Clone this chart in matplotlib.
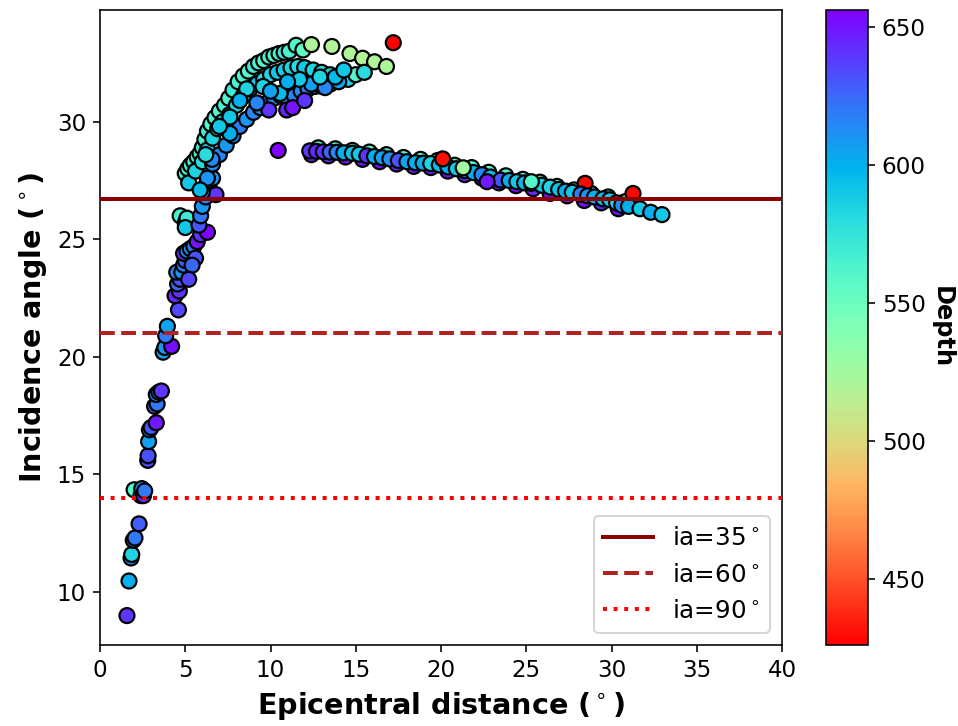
import numpy as np
import matplotlib
matplotlib.use("Agg")
import matplotlib.pyplot as plt

# ---- data: steep lower branch (distance deg, incidence deg, depth km)
rise_dist = [1.58, 1.70, 1.82, 1.86, 1.95, 2.05, 2.29, 2.00, 2.40, 2.45, 2.55, 2.62,
             2.80, 2.82, 2.85, 2.90, 3.00, 3.30, 3.20, 3.35, 3.30, 3.45, 3.60, 3.70,
             3.80, 4.20, 3.85, 3.95, 4.60, 4.40, 4.65, 4.55, 4.70, 4.50, 4.80, 4.90,
             5.00, 4.90, 5.10, 5.30, 5.50, 5.70, 5.90, 6.30, 4.70, 5.00, 5.10, 5.00,
             5.80, 5.90, 6.00, 6.20, 6.00, 6.40, 6.30, 6.60, 6.80, 5.60, 5.40, 5.20]
rise_inc = [9.00, 10.47, 11.45, 11.60, 12.20, 12.30, 12.90, 14.35, 14.10, 14.40, 14.10, 14.30,
            15.60, 15.80, 16.40, 16.90, 17.00, 17.20, 17.90, 18.00, 18.40, 18.50, 18.55, 20.20,
            20.40, 20.45, 20.90, 21.30, 22.00, 22.60, 22.80, 23.10, 23.30, 23.60, 23.60, 23.90,
            24.10, 24.40, 24.50, 24.60, 24.70, 24.90, 25.20, 25.30, 26.00, 25.70, 25.90, 25.50,
            25.60, 26.00, 26.40, 26.80, 27.00, 27.20, 27.50, 27.60, 26.90, 24.20, 23.90, 23.30]
rise_depth = [640, 600, 615, 585, 625, 620, 628, 560, 615, 612, 645, 620,
              635, 632, 605, 605, 630, 648, 625, 620, 615, 620, 640, 605,
              610, 652, 620, 605, 635, 645, 640, 625, 630, 615, 610, 620,
              625, 640, 615, 605, 620, 650, 640, 655, 565, 580, 570, 590,
              630, 620, 610, 615, 640, 625, 600, 610, 640, 630, 625, 635]

# ---- data: curved upper branch (outer edge, middle, inner, top layer)
upper_dist = [5.0, 5.15, 5.3, 5.5, 5.7, 5.87, 6.0, 6.15, 6.3, 6.5, 6.74, 7.0, 7.3, 7.55, 7.8,
              8.1, 8.4, 8.7, 9.0, 9.3, 9.6, 9.9, 10.2, 10.5, 10.8, 11.1, 11.5, 11.9, 12.4,
              13.6, 14.66, 15.4, 16.1, 16.8,
              5.2, 5.6, 6.0, 6.3, 6.6, 6.9, 7.2, 7.6, 8.0, 8.4, 8.8, 9.2, 9.6, 10.0, 10.4,
              10.8, 11.2, 11.6, 12.0, 12.5, 13.0, 13.5, 14.0, 14.55, 15.0, 15.5,
              6.0, 6.3, 6.6, 7.0, 7.4, 7.8, 8.2, 8.6, 9.0, 9.4, 9.8, 10.2, 10.6, 11.0, 11.4,
              11.8, 12.2, 12.6, 13.0, 13.5, 14.0,
              9.9, 10.95, 11.3, 12.0,
              7.62, 7.62, 9.56, 10.56, 12.4, 13.2, 11.7, 8.6, 9.2, 7.0, 6.57, 5.87, 6.2,
              10.0, 11.0, 13.8, 14.3, 8.2, 12.9, 17.2]
upper_inc = [27.8, 28.0, 28.15, 28.3, 28.5, 28.65, 28.9, 29.25, 29.6, 29.9, 30.17, 30.45, 30.7, 31.0, 31.35,
             31.7, 31.95, 32.15, 32.35, 32.5, 32.6, 32.75, 32.82, 32.9, 32.95, 33.0, 33.25, 33.05, 33.28,
             33.2, 32.9, 32.7, 32.55, 32.35,
             27.4, 27.9, 28.3, 28.8, 29.3, 29.7, 30.0, 30.3, 30.7, 31.1, 31.4, 31.6, 31.8, 32.0, 32.1,
             32.2, 32.3, 32.35, 32.3, 32.2, 32.1, 32.0, 31.95, 31.8, 32.0, 32.1,
             27.0, 27.6, 28.2, 28.6, 29.0, 29.4, 29.8, 30.1, 30.4, 30.6, 30.8, 31.0, 31.1, 31.0, 31.1,
             31.3, 31.4, 31.5, 31.5, 31.6, 31.7,
             30.5, 30.5, 30.6, 30.9,
             30.2, 29.5, 31.5, 31.2, 31.6, 31.45, 31.8, 31.4, 30.8, 29.8, 28.4, 27.1, 28.6,
             31.3, 31.7, 31.9, 32.2, 30.9, 31.9, 33.36]
upper_depth = [565, 560, 565, 562, 566, 560, 570, 565, 568, 560, 565, 560, 565, 562, 570,
               565, 562, 560, 570, 565, 560, 566, 562, 565, 570, 565, 560, 555, 520,
               520, 520, 518, 520, 522,
               590, 585, 580, 590, 585, 580, 588, 590, 585, 580, 585, 590, 580, 585, 590,
               588, 585, 580, 590, 585, 580, 585, 590, 585, 560, 580,
               605, 610, 612, 615, 610, 612, 618, 610, 615, 612, 620, 615, 620, 610, 615,
               612, 620, 610, 615, 612, 605,
               640, 645, 650, 640,
               590, 600, 585, 595, 605, 615, 590, 585, 615, 590, 612, 595, 580,
               605, 600, 595, 590, 600, 585, 426]

# ---- data: flat far branch (upper edge, lower edge, centre, top marks)
flat_dist = [12.8, 13.8, 14.8, 15.8, 16.8, 17.8, 18.8, 19.8, 20.8, 21.8, 22.8, 23.8, 24.8,
             25.8, 26.8, 27.8, 28.8, 29.8, 30.8,
             12.4, 13.4, 14.4, 15.4, 16.4, 17.4, 18.4, 19.4, 20.4, 21.4, 22.4, 23.4, 24.4,
             25.4, 26.4, 27.4, 28.4, 29.4, 30.4,
             28.45, 31.26,
             12.3, 12.7, 13.1, 13.5, 13.9, 14.3, 14.8, 15.2, 15.65, 16.1, 16.55, 17.0, 17.5,
             18.0, 18.5, 18.95, 19.4, 19.9, 20.4, 20.9, 21.4, 21.9, 22.4, 22.9, 23.5, 24.0,
             24.45, 24.9, 25.3, 25.9, 26.4, 26.9, 27.3, 27.7, 28.2, 28.6, 29.0, 29.5, 29.9,
             30.3, 30.6, 31.0, 31.67, 32.3, 32.96,
             20.1, 21.3, 25.3, 22.7, 10.45]
flat_inc = [28.89, 28.85, 28.78, 28.71, 28.6, 28.48, 28.4, 28.35, 28.15, 28.05, 27.85, 27.7, 27.55,
            27.43, 27.25, 27.1, 26.95, 26.8, 26.6,
            28.6, 28.55, 28.5, 28.4, 28.3, 28.2, 28.1, 28.05, 27.9, 27.75, 27.6, 27.4, 27.28,
            27.15, 26.95, 26.85, 26.65, 26.55, 26.3,
            27.38, 26.95,
            28.76, 28.74, 28.72, 28.71, 28.70, 28.68, 28.66, 28.62, 28.55, 28.52, 28.47, 28.42, 28.35,
            28.30, 28.26, 28.24, 28.22, 28.16, 28.08, 28.0, 27.92, 27.84, 27.75, 27.65, 27.52, 27.5,
            27.45, 27.4, 27.38, 27.3, 27.22, 27.12, 27.05, 27.0, 26.92, 26.85, 26.8, 26.72, 26.68,
            26.55, 26.45, 26.4, 26.3, 26.15, 26.05,
            28.42, 28.04, 27.45, 27.45, 28.78]
flat_depth = [560, 565, 555, 560, 565, 560, 555, 560, 565, 560, 555, 565, 560,
              560, 565, 555, 560, 565, 560,
              650, 645, 650, 648, 652, 645, 650, 648, 652, 645, 650, 648, 652,
              645, 650, 648, 652, 645, 650,
              428, 428,
              640, 645, 640, 625, 615, 600, 592, 590, 640, 600, 605, 612, 630,
              605, 600, 600, 585, 595, 600, 590, 605, 600, 615, 595, 630, 600,
              590, 595, 585, 590, 585, 592, 600, 590, 620, 610, 600, 595, 590,
              585, 612, 600, 590, 600, 590,
              430, 525, 560, 648, 655]

# ---- reference lines
ref_levels = [26.7, 21.0, 14.0]
ref_labels = ['ia=35$^\\circ$', 'ia=60$^\\circ$', 'ia=90$^\\circ$']

dist = np.array(rise_dist + upper_dist + flat_dist)
inc = np.array(rise_inc + upper_inc + flat_inc)
depth = np.array(rise_depth + upper_depth + flat_depth)

DPI = 144
fig = plt.figure(figsize=(958 / DPI, 726 / DPI), dpi=DPI)
ax = fig.add_axes([0.1044, 0.1116, 0.7119, 0.8746])
cax = fig.add_axes([0.862, 0.1116, 0.0438, 0.8746])

sc = ax.scatter(dist, inc, c=depth, cmap='rainbow_r', vmin=426, vmax=656,
                s=56, edgecolors='black', linewidths=1.1, zorder=2)

styles = ['-', '--', ':']
colors = ['darkred', 'firebrick', 'red']
for lvl, lab, ls, col in zip(ref_levels, ref_labels, styles, colors):
    ax.axhline(lvl, color=col, linestyle=ls, linewidth=2, label=lab, zorder=3)

ax.set_xlim(0, 40)
ax.set_ylim(7.75, 34.75)
ax.set_xticks([0, 5, 10, 15, 20, 25, 30, 35, 40])
ax.set_yticks([10, 15, 20, 25, 30])
ax.tick_params(labelsize=11.5)
ax.set_xlabel('Epicentral distance ($^\\circ$)', fontsize=14.3, fontweight='bold')
ax.set_ylabel('Incidence angle ($^\\circ$)', fontsize=14.3, fontweight='bold')
ax.legend(loc='lower right', fontsize=12.3)

cb = fig.colorbar(sc, cax=cax)
cb.set_ticks([450, 500, 550, 600, 650])
cb.ax.tick_params(labelsize=11.5)
cb.set_label('Depth', rotation=270, fontsize=12, fontweight='bold', labelpad=14)

fig.savefig('out.png', dpi=DPI)
